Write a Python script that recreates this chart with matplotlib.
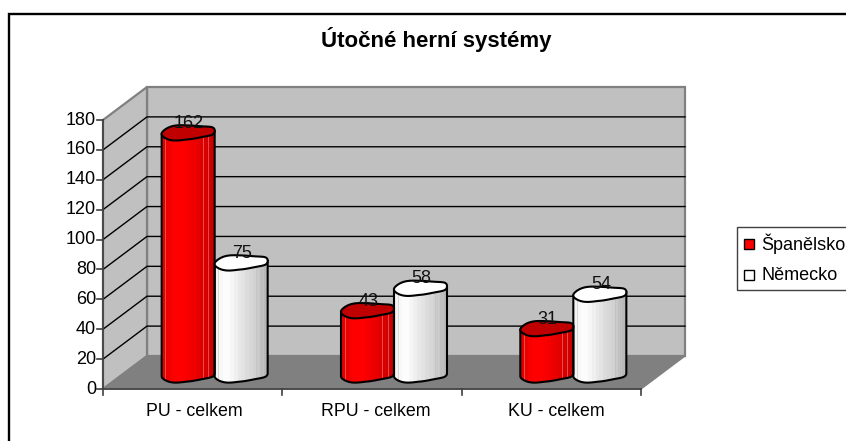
import numpy as np
import matplotlib
matplotlib.use("Agg")
import matplotlib.pyplot as plt
from matplotlib.lines import Line2D
from matplotlib.patches import Polygon, Rectangle
from matplotlib.colors import LinearSegmentedColormap

categories = ["PU - celkem", "RPU - celkem", "KU - celkem"]
spanelsko = [162, 43, 31]
nemecko = [75, 58, 54]
series_names = ["Španělsko", "Německo"]
y_ticks = list(range(0, 181, 20))
title = "Útočné herní systémy"

W, H = 846, 441
plt.rcParams["font.family"] = ["Liberation Sans", "DejaVu Sans"]
fig = plt.figure(figsize=(W / 100, H / 100), dpi=100, facecolor="white")

# front plane of the 3D box, in pixels
L, R, B, T = 103, 641, 389, 120
ax = fig.add_axes([L / W, 1 - B / H, (R - L) / W, (B - T) / H])
ax.set_xlim(0, 3)
ax.set_ylim(0, 180)
ax.axis("off")
sx = (R - L) / 3
sy = (B - T) / 180
DX = 44 / sx
DY = 33 / sy

# outer frame: only the top and left edges fall inside the picture
fig.add_artist(Line2D([9 / W, 9 / W, 1], [0, 1 - 13.5 / H, 1 - 13.5 / H], transform=fig.transFigure,
                      color="black", lw=1.7, solid_joinstyle="miter"))

# walls and floor
wall = "#c0c0c0"
edge = "#808080"
ax.add_patch(Polygon([(DX, DY), (3 + DX, DY), (3 + DX, 180 + DY), (DX, 180 + DY)],
                     fc=wall, ec=edge, lw=1.6, zorder=1, clip_on=False))
ax.add_patch(Polygon([(0, 0), (DX, DY), (DX, 180 + DY), (0, 180)],
                     fc=wall, ec=edge, lw=1.6, zorder=1, clip_on=False))
ax.add_patch(Polygon([(0, 0), (3, 0), (3 + DX, DY), (DX, DY)],
                     fc=edge, ec=edge, lw=1, zorder=2, clip_on=False))
for v in y_ticks[1:-1]:
    ax.plot([0, DX, 3 + DX], [v, v + DY, v + DY], color="black", lw=1.0, zorder=2,
            clip_on=False, solid_joinstyle="miter")
ax.plot([0, 0], [0, 180], color="#404040", lw=1.2, clip_on=False, zorder=3)
ax.plot([0, 3], [0, 0], color="#404040", lw=1.2, clip_on=False, zorder=3)

# ticks and labels
for v in y_ticks:
    ax.plot([-6 / sx, 0], [v, v], color="#404040", lw=1.2, clip_on=False, zorder=3)
    ax.text(-7 / sx, v, str(v), ha="right", va="center", fontsize=13, color="black")
for i in range(4):
    ax.plot([i, i], [0, -6 / sy], color="#404040", lw=1.2, clip_on=False, zorder=3)
for i, c in enumerate(categories):
    ax.text(i + 0.5 + (2 + i * 1.5) / sx, -22 / sy, c, ha="center", va="center", fontsize=12.8, color="black")

fig.text(436 / W, 1 - 39 / H, title, ha="center", va="center", fontsize=16, fontweight="bold")

# cylinders
red_cm = LinearSegmentedColormap.from_list(
    "r", ["#e00000", "#ff0000", "#ff0000", "#f00000", "#dc0000", "#c80000"])
white_cm = LinearSegmentedColormap.from_list(
    "w", ["#f4f4f4", "#ffffff", "#eeeeee", "#dedede", "#d0d0d0", "#b8b8b8"])
HALF = 26.5 / sx
RY = 7 / sy
TILT = 1.6 / sy
FRONT_OFFSET_X = 22 / sx
FRONT_OFFSET_Y = 14.5 / sy
SHEEN = [0.07, 0.78, 0.88]


def ring(cx, level):
    a = np.linspace(0, 2 * np.pi, 181)
    x = cx + HALF * np.sign(np.cos(a)) * np.abs(np.cos(a)) ** 0.8
    y = (level + RY * (np.sign(np.sin(a)) * np.abs(np.sin(a)) ** 0.85) * (1 + 0.16 * np.cos(3 * a))
         + TILT * np.cos(a))
    return np.column_stack([x, y]), a


def cylinder(cx, value, cmap, top_color, sheen_color):
    level0 = FRONT_OFFSET_Y
    level1 = value + FRONT_OFFSET_Y
    bottom, a = ring(cx, level0)
    top, _ = ring(cx, level1)
    lower = bottom[a >= np.pi]  # left corner -> front -> right corner
    outline = np.vstack([top[90], lower, top[0]])
    body = Polygon(outline, closed=True, fc="none", ec="none", zorder=4, clip_on=False)
    ax.add_patch(body)
    grad = np.linspace(0, 1, 14).reshape(1, -1)
    im = ax.imshow(grad, extent=(cx - HALF, cx + HALF, -5, 200), cmap=cmap, aspect="auto", zorder=4,
                   interpolation="nearest", vmin=0, vmax=1)
    im.set_clip_path(body)
    for f in SHEEN:
        xp = cx - HALF + 2 * HALF * f
        ln = ax.plot([xp, xp], [0, level1], color=sheen_color, lw=0.6, alpha=0.6, zorder=4.5, clip_on=True)[0]
        ln.set_clip_path(body)
    ax.add_patch(Polygon(outline, closed=True, fc="none", ec="black", lw=1.5, zorder=5, clip_on=False))
    ax.add_patch(Polygon(top, closed=True, fc=top_color, ec="black", lw=1.5, zorder=6, clip_on=False))
    ax.text(cx + 1 / sx, level1 + 9 / sy, str(value), ha="center", va="center", fontsize=13, zorder=7,
            color="#111111")


for i in range(3):
    c = i + 0.5 + FRONT_OFFSET_X
    cylinder(c - HALF, spanelsko[i], red_cm, "#c00000", "#ff9090")
    cylinder(c + HALF, nemecko[i], white_cm, "#ffffff", "#bbbbbb")

ax.set_xlim(0, 3)
ax.set_ylim(0, 180)

# legend
fig.add_artist(Rectangle((737 / W, 1 - 290 / H), 120 / W, 63 / H, transform=fig.transFigure,
                         fc="white", ec="#404040", lw=1.0, zorder=5))
for name, color, yp in zip(series_names, ["#ff0000", "#ffffff"], [244, 275]):
    fig.add_artist(Rectangle((744 / W, 1 - (yp + 5) / H), 10 / W, 10 / H, transform=fig.transFigure,
                             fc=color, ec="black", lw=1.0, zorder=6))
    fig.text(761 / W, 1 - yp / H, name, ha="left", va="center", fontsize=13, zorder=6)

fig.savefig("out.png", dpi=100, facecolor="white")
